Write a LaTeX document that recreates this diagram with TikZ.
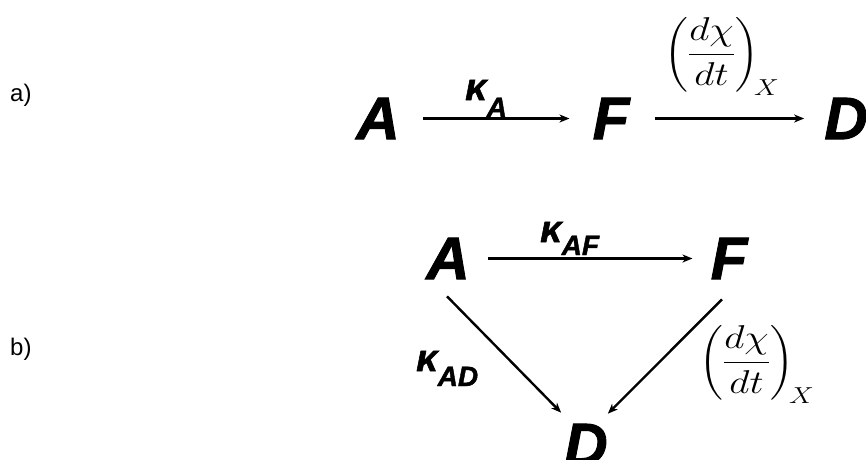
\documentclass[tikz,border=0pt]{standalone}
\usepackage{fix-cm}
\usepackage{amsmath}
\usepackage{fontspec}
\setmainfont{Liberation Sans}
\newfontfamily\heavy{Liberation Sans}[UprightFont={* Bold Italic},UprightFeatures={FakeBold=1.5}]
\usetikzlibrary{arrows.meta,calc}
\tikzset{
  big/.style={inner sep=0pt,font=\heavy\fontsize{60}{60}\selectfont},
  rate/.style={inner sep=0pt,anchor=base west},
  lab/.style={inner sep=0pt,anchor=base west,font=\fontsize{24}{24}\selectfont},
  frac/.style={inner sep=0pt,anchor=base west,xscale=1.2,transform shape,font=\fontsize{33}{33}\selectfont},
  conn/.style={line width=2.4pt,-{Stealth[length=10pt,width=8pt,inset=3pt]}}
}
\newcommand{\kap}[2]{{\heavy\fontsize{38}{38}\selectfont κ}\raisebox{#1}{\heavy\fontsize{28}{28}\selectfont #2}}
\newcommand{\dchi}{$\biggl(\dfrac{d\chi}{dt}\biggr)_{\!X}$}
\begin{document}
\begin{tikzpicture}[x=1pt,y=-1pt]
\useasboundingbox (0,0) rectangle (866,459);
% labels
\node[lab] (la) at (10,101) {a)};
\node[lab] (lb) at (10,355) {b)};
% row a
\node[big] (A1) at (378,118.5) {A};
\node[big] (F1) at (611,118.5) {F};
\node[big] (D1) at (846,118.5) {D};
\draw[conn,shorten <=23pt,shorten >=23pt] (A1) -- (F1);
\draw[conn,shorten <=25pt,shorten >=20pt] (F1) -- (D1);
\node[rate] (kA) at (465,100) {\kap{-17pt}{A}};
\node[frac] (fa) at (664,63) {\dchi};
% row b
\node[big] (A2) at (448,258.5) {A};
\node[big] (F2) at (729,258.5) {F};
\node[big] (D2) at (586,444.5) {D};
\draw[conn,shorten <=18pt,shorten >=18pt] (A2) -- (F2);
\draw[conn] ($(A2.south)+(-1,17)$) -- ($(D2.north west)+(-3,-11)$);
\draw[conn] ($(F2.south)+(-7,20)$) -- ($(D2.north east)+(0,-10)$);
\node[rate] (kAF) at (540,242) {\kap{-13pt}{AF}};
\node[rate] (kAD) at (416,371) {\kap{-15pt}{AD}};
\node[frac] (fb) at (699,371) {\dchi};
\end{tikzpicture}
\end{document}
